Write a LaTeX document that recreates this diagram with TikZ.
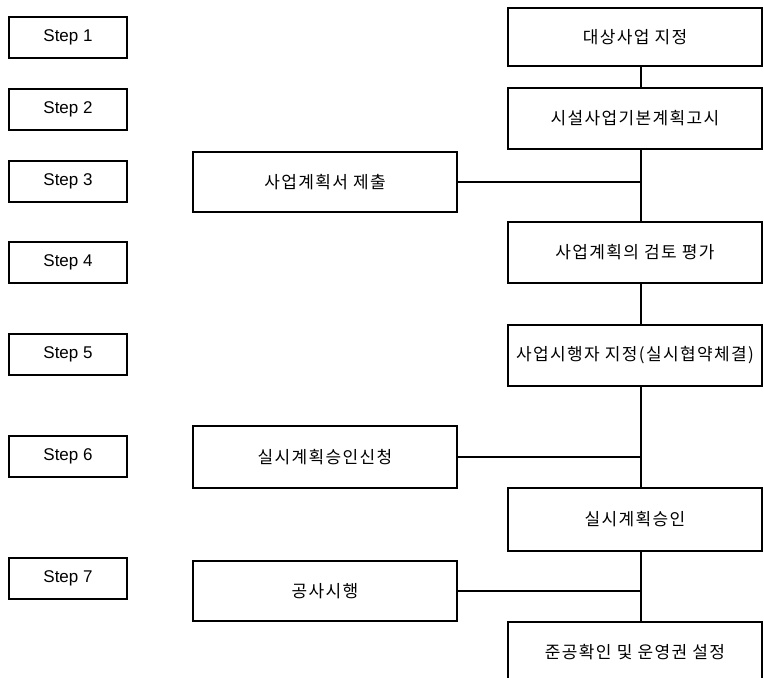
\documentclass[tikz,border=0pt]{standalone}
\usepackage{fontspec}
\setmainfont{Liberation Sans}
\newfontfamily\krfont[LetterSpace=8]{Noto Sans CJK KR}
\begin{document}
\begin{tikzpicture}[x=1pt,y=-1pt,
  stepbox/.style={draw, line width=1.3pt, minimum width=118pt, minimum height=41pt, inner sep=0pt,
    font=\fontsize{17}{20}\selectfont},
  rbox/.style={draw, line width=1.3pt, minimum width=254pt, inner sep=0pt,
    font=\krfont\fontsize{17}{20}\selectfont},
  lbox/.style={draw, line width=1.3pt, minimum width=264pt, inner sep=0pt,
    font=\krfont\fontsize{17}{20}\selectfont},
  conn/.style={line width=1.3pt}]
\useasboundingbox (0,0) rectangle (764,678);
\clip (0,0) rectangle (764,678);
\coordinate (spine) at (641,0);
% step labels
\node[stepbox] (s1) at (68,37.5) {Step 1};
\node[stepbox] (s2) at (68,109.5) {Step 2};
\node[stepbox] (s3) at (68,181.5) {Step 3};
\node[stepbox] (s4) at (68,262.5) {Step 4};
\node[stepbox] (s5) at (68,354.5) {Step 5};
\node[stepbox] (s6) at (68,456.5) {Step 6};
\node[stepbox] (s7) at (68,578.5) {Step 7};
% right column
\node[rbox, minimum height=58pt] (r1) at (635,37) {대상사업 지정};
\node[rbox, minimum height=61pt] (r2) at (635,118.5) {시설사업기본계획고시};
\node[rbox, minimum height=61pt] (r4) at (635,252.5) {사업계획의 검토 평가};
\node[rbox, minimum height=61pt] (r5) at (635,355.5) {사업시행자 지정(실시협약체결)};
\node[rbox, minimum height=63pt] (r6) at (635,519.5) {실시계획승인};
\node[rbox, minimum height=68pt] (r7) at (635,656) {\raisebox{10pt}{준공확인 및 운영권 설정}};
% left column
\node[lbox, minimum height=60pt] (l3) at (325,182) {사업계획서 제출};
\node[lbox, minimum height=62pt] (l6) at (325,457) {실시계획승인신청};
\node[lbox, minimum height=60pt] (l7) at (325,591) {공사시행};
% connectors
\draw[conn] (r1.south -| spine) -- (r2.north -| spine);
\draw[conn] (r2.south -| spine) -- (r4.north -| spine);
\draw[conn] (r4.south -| spine) -- (r5.north -| spine);
\draw[conn] (r5.south -| spine) -- (r6.north -| spine);
\draw[conn] (r6.south -| spine) -- (r7.north -| spine);
\draw[conn] (l3.east) -- (l3.east -| spine);
\draw[conn] (l6.east) -- (l6.east -| spine);
\draw[conn] (l7.east) -- (l7.east -| spine);
\end{tikzpicture}
\end{document}
